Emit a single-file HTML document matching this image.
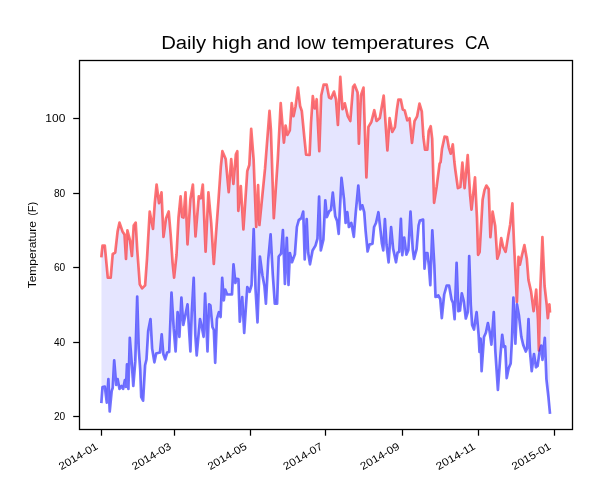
<!DOCTYPE html>
<html><head><meta charset="utf-8"><title>Daily high and low temperatures CA</title>
<style>html,body{margin:0;padding:0;background:#fff;width:613px;height:489px;overflow:hidden}</style></head>
<body>
<svg width="613" height="489" viewBox="0 0 613 489" style="position:absolute;left:0;top:0;font-family:'Liberation Sans',sans-serif">
<rect x="0" y="0" width="613" height="489" fill="#fff"/>
<path d="M101.45,256.00 L102.50,245.60 L104.80,245.60 L107.80,277.60 L110.70,277.60 L112.70,254.00 L115.20,252.60 L117.60,231.40 L119.50,222.60 L122.50,231.40 L124.50,234.40 L126.00,258.90 L127.40,230.40 L130.00,240.30 L131.90,256.00 L133.70,225.50 L135.70,222.60 L137.20,249.10 L139.80,284.40 L142.10,288.40 L145.10,285.40 L147.00,258.90 L149.70,211.50 L153.00,229.00 L154.70,204.00 L156.60,184.50 L159.00,203.20 L161.50,192.40 L163.50,236.90 L166.00,218.50 L168.70,211.40 L170.70,235.00 L172.60,262.80 L174.10,277.70 L176.50,255.00 L178.50,217.70 L180.60,196.30 L182.10,217.00 L183.50,217.50 L185.50,192.40 L187.50,244.30 L190.40,199.00 L192.90,184.50 L195.50,236.50 L198.80,196.30 L200.80,198.30 L202.80,184.50 L205.60,251.60 L208.40,192.40 L211.20,222.80 L213.80,264.00 L216.50,226.80 L218.50,200.00 L220.80,167.00 L222.40,151.20 L225.70,159.10 L228.70,192.20 L231.20,159.10 L233.40,184.00 L235.90,154.20 L237.30,151.20 L238.30,210.80 L240.80,186.00 L243.40,229.30 L247.30,170.90 L249.30,165.00 L251.20,128.90 L253.60,159.10 L256.20,227.00 L258.10,185.20 L259.40,225.00 L265.00,168.90 L269.50,110.80 L270.90,129.60 L273.80,218.10 L277.80,159.10 L280.70,103.10 L283.90,142.60 L285.60,125.50 L287.40,134.90 L289.80,130.30 L291.70,103.10 L293.50,116.20 L295.60,106.20 L298.00,87.70 L300.10,106.00 L301.80,111.00 L304.40,138.00 L306.10,154.60 L309.60,154.80 L311.00,123.00 L312.80,96.10 L314.80,108.50 L316.70,99.20 L319.30,151.20 L321.20,95.50 L323.60,84.70 L326.70,84.70 L329.10,97.50 L331.10,98.40 L334.00,91.60 L336.00,99.40 L337.90,125.00 L340.30,76.80 L342.50,109.20 L344.80,103.30 L347.80,116.10 L350.30,121.00 L353.10,86.70 L354.60,84.70 L357.60,92.50 L358.90,143.60 L360.90,95.50 L363.50,87.60 L366.40,177.50 L368.40,126.90 L371.30,122.00 L374.30,110.20 L376.60,121.00 L379.80,118.10 L383.70,95.50 L387.40,150.50 L389.60,118.10 L392.30,131.90 L394.90,127.10 L396.90,109.50 L398.40,99.50 L400.80,99.60 L402.80,109.50 L404.70,110.40 L407.30,120.30 L409.60,118.30 L412.00,142.80 L414.50,121.20 L417.10,116.30 L419.50,103.60 L421.80,111.40 L423.40,137.00 L425.00,149.70 L427.30,149.70 L428.70,131.10 L430.70,126.20 L432.20,138.90 L434.10,202.80 L436.70,186.20 L439.60,163.60 L440.60,162.00 L442.00,148.70 L444.60,136.60 L447.00,137.00 L448.90,147.80 L450.70,153.70 L452.80,144.30 L454.40,162.00 L455.30,169.50 L457.90,188.10 L460.30,187.10 L462.40,162.60 L464.60,188.10 L467.70,155.20 L470.10,195.00 L471.50,209.70 L475.00,177.30 L477.00,218.60 L478.10,254.80 L479.60,252.00 L482.60,199.80 L484.50,190.00 L486.40,185.60 L488.70,189.10 L490.40,237.10 L492.60,211.60 L495.20,226.00 L497.30,258.70 L499.30,252.80 L501.20,238.10 L503.20,247.00 L505.60,251.90 L508.20,235.60 L510.20,224.40 L512.40,203.30 L514.00,243.00 L516.90,302.00 L518.50,256.80 L519.90,264.60 L522.00,255.00 L524.40,245.00 L526.80,258.70 L528.50,280.00 L531.10,291.60 L533.60,311.20 L536.20,289.60 L538.00,320.00 L538.90,350.50 L540.30,289.60 L542.40,237.10 L544.60,286.00 L546.80,305.30 L547.80,318.10 L549.40,304.40 L549.90,311.20 L549.90,412.50 L548.40,396.80 L546.40,379.10 L544.80,337.80 L542.50,359.90 L541.30,345.60 L539.50,352.50 L537.60,366.00 L536.00,367.30 L534.00,354.00 L531.70,371.20 L529.90,351.00 L528.50,319.10 L527.20,348.00 L525.80,351.50 L523.20,345.00 L521.30,336.80 L518.90,315.20 L517.00,304.40 L515.40,343.60 L513.40,297.50 L512.00,339.30 L510.70,363.40 L508.70,368.30 L506.70,378.10 L505.20,346.50 L503.80,347.00 L502.20,334.80 L500.30,357.00 L497.90,389.90 L495.30,351.00 L493.80,312.20 L491.40,344.60 L489.50,330.90 L487.90,323.00 L485.90,332.80 L484.00,337.00 L481.60,371.20 L480.60,338.50 L479.50,352.00 L478.60,334.80 L476.60,312.20 L474.00,329.50 L472.10,325.00 L470.80,305.00 L469.20,256.00 L467.80,312.00 L465.80,318.50 L463.80,301.40 L461.80,293.40 L460.00,310.50 L458.30,311.20 L456.60,262.80 L454.60,319.10 L453.00,303.00 L451.50,299.50 L449.10,285.70 L446.70,285.70 L444.20,294.50 L441.80,318.10 L440.20,299.00 L438.30,295.50 L435.50,297.00 L434.30,264.80 L432.30,230.40 L430.30,285.20 L428.80,265.00 L427.40,253.00 L426.00,253.00 L424.50,268.70 L423.10,219.60 L419.90,220.60 L418.60,225.50 L416.60,249.10 L414.00,258.90 L412.70,249.10 L410.50,211.60 L408.40,250.00 L406.40,254.70 L404.20,237.50 L402.30,255.20 L400.90,218.90 L399.20,252.00 L397.60,252.50 L396.00,262.30 L393.10,248.60 L391.10,227.00 L388.60,262.30 L386.50,245.00 L384.90,219.10 L383.30,250.50 L381.90,243.60 L380.30,228.90 L378.40,212.20 L376.00,223.00 L374.10,227.00 L372.50,243.60 L369.50,244.60 L367.60,251.50 L365.60,230.90 L364.20,212.20 L362.30,205.30 L360.30,209.30 L358.30,185.70 L355.80,212.20 L353.80,236.80 L351.30,223.00 L348.90,227.00 L347.30,212.20 L345.60,223.00 L344.00,199.50 L341.50,177.90 L338.70,233.80 L337.10,221.10 L335.20,216.20 L332.80,192.60 L331.00,210.00 L329.30,211.20 L326.90,217.10 L325.30,200.40 L323.40,239.70 L320.80,250.50 L319.10,196.50 L317.50,238.70 L315.50,245.60 L312.60,250.50 L310.00,264.30 L308.10,252.50 L306.70,219.10 L304.70,259.40 L303.20,211.60 L301.40,218.10 L298.80,220.10 L296.90,227.00 L294.90,254.40 L292.00,262.30 L289.90,253.00 L288.50,285.00 L286.80,237.90 L284.90,284.00 L282.90,230.00 L281.10,253.60 L278.70,256.50 L277.10,303.60 L274.80,303.60 L272.80,275.00 L270.60,234.40 L268.30,259.00 L265.90,303.60 L264.40,286.00 L262.40,275.20 L259.90,256.50 L257.50,322.30 L255.50,289.00 L253.70,229.00 L251.60,285.00 L249.60,291.90 L247.30,287.00 L244.20,332.80 L242.20,297.20 L239.80,321.60 L238.40,279.00 L236.50,278.80 L235.40,283.00 L233.50,264.40 L232.00,294.50 L227.10,294.50 L225.20,289.60 L223.80,300.40 L222.20,277.90 L220.60,317.00 L218.90,312.20 L216.90,319.10 L215.20,362.80 L213.80,330.00 L212.40,327.00 L210.40,305.30 L209.10,304.40 L207.50,351.50 L205.10,293.60 L203.60,336.80 L202.00,328.00 L200.00,319.10 L196.70,355.40 L195.30,335.00 L193.70,277.90 L191.80,312.20 L190.40,351.50 L189.00,329.00 L187.50,304.40 L185.00,317.00 L183.30,325.00 L181.40,297.50 L179.40,336.80 L177.60,312.20 L175.60,351.50 L173.70,328.90 L171.50,292.60 L169.20,352.00 L167.20,352.50 L165.20,359.40 L163.30,354.00 L161.70,334.30 L160.00,352.50 L156.20,353.50 L154.40,362.30 L152.10,348.60 L150.50,319.10 L148.20,330.90 L146.50,359.50 L145.10,365.30 L143.10,400.70 L141.20,396.80 L140.20,369.30 L138.70,348.60 L137.20,296.50 L135.30,361.40 L133.30,386.00 L131.90,365.30 L129.80,337.90 L128.40,388.90 L127.00,364.40 L126.00,387.00 L124.90,380.10 L123.10,388.90 L121.50,386.00 L119.50,388.90 L117.60,379.10 L116.20,385.00 L114.20,360.40 L112.70,388.00 L111.70,390.90 L109.70,411.50 L108.40,379.10 L106.80,402.70 L104.80,386.60 L102.50,387.00 L101.45,401.70Z" fill="#0000ff" fill-opacity="0.1" stroke="none"/>
<path d="M101.45,256.00 L102.50,245.60 L104.80,245.60 L107.80,277.60 L110.70,277.60 L112.70,254.00 L115.20,252.60 L117.60,231.40 L119.50,222.60 L122.50,231.40 L124.50,234.40 L126.00,258.90 L127.40,230.40 L130.00,240.30 L131.90,256.00 L133.70,225.50 L135.70,222.60 L137.20,249.10 L139.80,284.40 L142.10,288.40 L145.10,285.40 L147.00,258.90 L149.70,211.50 L153.00,229.00 L154.70,204.00 L156.60,184.50 L159.00,203.20 L161.50,192.40 L163.50,236.90 L166.00,218.50 L168.70,211.40 L170.70,235.00 L172.60,262.80 L174.10,277.70 L176.50,255.00 L178.50,217.70 L180.60,196.30 L182.10,217.00 L183.50,217.50 L185.50,192.40 L187.50,244.30 L190.40,199.00 L192.90,184.50 L195.50,236.50 L198.80,196.30 L200.80,198.30 L202.80,184.50 L205.60,251.60 L208.40,192.40 L211.20,222.80 L213.80,264.00 L216.50,226.80 L218.50,200.00 L220.80,167.00 L222.40,151.20 L225.70,159.10 L228.70,192.20 L231.20,159.10 L233.40,184.00 L235.90,154.20 L237.30,151.20 L238.30,210.80 L240.80,186.00 L243.40,229.30 L247.30,170.90 L249.30,165.00 L251.20,128.90 L253.60,159.10 L256.20,227.00 L258.10,185.20 L259.40,225.00 L265.00,168.90 L269.50,110.80 L270.90,129.60 L273.80,218.10 L277.80,159.10 L280.70,103.10 L283.90,142.60 L285.60,125.50 L287.40,134.90 L289.80,130.30 L291.70,103.10 L293.50,116.20 L295.60,106.20 L298.00,87.70 L300.10,106.00 L301.80,111.00 L304.40,138.00 L306.10,154.60 L309.60,154.80 L311.00,123.00 L312.80,96.10 L314.80,108.50 L316.70,99.20 L319.30,151.20 L321.20,95.50 L323.60,84.70 L326.70,84.70 L329.10,97.50 L331.10,98.40 L334.00,91.60 L336.00,99.40 L337.90,125.00 L340.30,76.80 L342.50,109.20 L344.80,103.30 L347.80,116.10 L350.30,121.00 L353.10,86.70 L354.60,84.70 L357.60,92.50 L358.90,143.60 L360.90,95.50 L363.50,87.60 L366.40,177.50 L368.40,126.90 L371.30,122.00 L374.30,110.20 L376.60,121.00 L379.80,118.10 L383.70,95.50 L387.40,150.50 L389.60,118.10 L392.30,131.90 L394.90,127.10 L396.90,109.50 L398.40,99.50 L400.80,99.60 L402.80,109.50 L404.70,110.40 L407.30,120.30 L409.60,118.30 L412.00,142.80 L414.50,121.20 L417.10,116.30 L419.50,103.60 L421.80,111.40 L423.40,137.00 L425.00,149.70 L427.30,149.70 L428.70,131.10 L430.70,126.20 L432.20,138.90 L434.10,202.80 L436.70,186.20 L439.60,163.60 L440.60,162.00 L442.00,148.70 L444.60,136.60 L447.00,137.00 L448.90,147.80 L450.70,153.70 L452.80,144.30 L454.40,162.00 L455.30,169.50 L457.90,188.10 L460.30,187.10 L462.40,162.60 L464.60,188.10 L467.70,155.20 L470.10,195.00 L471.50,209.70 L475.00,177.30 L477.00,218.60 L478.10,254.80 L479.60,252.00 L482.60,199.80 L484.50,190.00 L486.40,185.60 L488.70,189.10 L490.40,237.10 L492.60,211.60 L495.20,226.00 L497.30,258.70 L499.30,252.80 L501.20,238.10 L503.20,247.00 L505.60,251.90 L508.20,235.60 L510.20,224.40 L512.40,203.30 L514.00,243.00 L516.90,302.00 L518.50,256.80 L519.90,264.60 L522.00,255.00 L524.40,245.00 L526.80,258.70 L528.50,280.00 L531.10,291.60 L533.60,311.20 L536.20,289.60 L538.00,320.00 L538.90,350.50 L540.30,289.60 L542.40,237.10 L544.60,286.00 L546.80,305.30 L547.80,318.10 L549.40,304.40 L549.90,311.20" fill="none" stroke="#ff0000" stroke-opacity="0.55" stroke-width="2.7" stroke-linejoin="round" stroke-linecap="square"/>
<path d="M101.45,401.70 L102.50,387.00 L104.80,386.60 L106.80,402.70 L108.40,379.10 L109.70,411.50 L111.70,390.90 L112.70,388.00 L114.20,360.40 L116.20,385.00 L117.60,379.10 L119.50,388.90 L121.50,386.00 L123.10,388.90 L124.90,380.10 L126.00,387.00 L127.00,364.40 L128.40,388.90 L129.80,337.90 L131.90,365.30 L133.30,386.00 L135.30,361.40 L137.20,296.50 L138.70,348.60 L140.20,369.30 L141.20,396.80 L143.10,400.70 L145.10,365.30 L146.50,359.50 L148.20,330.90 L150.50,319.10 L152.10,348.60 L154.40,362.30 L156.20,353.50 L160.00,352.50 L161.70,334.30 L163.30,354.00 L165.20,359.40 L167.20,352.50 L169.20,352.00 L171.50,292.60 L173.70,328.90 L175.60,351.50 L177.60,312.20 L179.40,336.80 L181.40,297.50 L183.30,325.00 L185.00,317.00 L187.50,304.40 L189.00,329.00 L190.40,351.50 L191.80,312.20 L193.70,277.90 L195.30,335.00 L196.70,355.40 L200.00,319.10 L202.00,328.00 L203.60,336.80 L205.10,293.60 L207.50,351.50 L209.10,304.40 L210.40,305.30 L212.40,327.00 L213.80,330.00 L215.20,362.80 L216.90,319.10 L218.90,312.20 L220.60,317.00 L222.20,277.90 L223.80,300.40 L225.20,289.60 L227.10,294.50 L232.00,294.50 L233.50,264.40 L235.40,283.00 L236.50,278.80 L238.40,279.00 L239.80,321.60 L242.20,297.20 L244.20,332.80 L247.30,287.00 L249.60,291.90 L251.60,285.00 L253.70,229.00 L255.50,289.00 L257.50,322.30 L259.90,256.50 L262.40,275.20 L264.40,286.00 L265.90,303.60 L268.30,259.00 L270.60,234.40 L272.80,275.00 L274.80,303.60 L277.10,303.60 L278.70,256.50 L281.10,253.60 L282.90,230.00 L284.90,284.00 L286.80,237.90 L288.50,285.00 L289.90,253.00 L292.00,262.30 L294.90,254.40 L296.90,227.00 L298.80,220.10 L301.40,218.10 L303.20,211.60 L304.70,259.40 L306.70,219.10 L308.10,252.50 L310.00,264.30 L312.60,250.50 L315.50,245.60 L317.50,238.70 L319.10,196.50 L320.80,250.50 L323.40,239.70 L325.30,200.40 L326.90,217.10 L329.30,211.20 L331.00,210.00 L332.80,192.60 L335.20,216.20 L337.10,221.10 L338.70,233.80 L341.50,177.90 L344.00,199.50 L345.60,223.00 L347.30,212.20 L348.90,227.00 L351.30,223.00 L353.80,236.80 L355.80,212.20 L358.30,185.70 L360.30,209.30 L362.30,205.30 L364.20,212.20 L365.60,230.90 L367.60,251.50 L369.50,244.60 L372.50,243.60 L374.10,227.00 L376.00,223.00 L378.40,212.20 L380.30,228.90 L381.90,243.60 L383.30,250.50 L384.90,219.10 L386.50,245.00 L388.60,262.30 L391.10,227.00 L393.10,248.60 L396.00,262.30 L397.60,252.50 L399.20,252.00 L400.90,218.90 L402.30,255.20 L404.20,237.50 L406.40,254.70 L408.40,250.00 L410.50,211.60 L412.70,249.10 L414.00,258.90 L416.60,249.10 L418.60,225.50 L419.90,220.60 L423.10,219.60 L424.50,268.70 L426.00,253.00 L427.40,253.00 L428.80,265.00 L430.30,285.20 L432.30,230.40 L434.30,264.80 L435.50,297.00 L438.30,295.50 L440.20,299.00 L441.80,318.10 L444.20,294.50 L446.70,285.70 L449.10,285.70 L451.50,299.50 L453.00,303.00 L454.60,319.10 L456.60,262.80 L458.30,311.20 L460.00,310.50 L461.80,293.40 L463.80,301.40 L465.80,318.50 L467.80,312.00 L469.20,256.00 L470.80,305.00 L472.10,325.00 L474.00,329.50 L476.60,312.20 L478.60,334.80 L479.50,352.00 L480.60,338.50 L481.60,371.20 L484.00,337.00 L485.90,332.80 L487.90,323.00 L489.50,330.90 L491.40,344.60 L493.80,312.20 L495.30,351.00 L497.90,389.90 L500.30,357.00 L502.20,334.80 L503.80,347.00 L505.20,346.50 L506.70,378.10 L508.70,368.30 L510.70,363.40 L512.00,339.30 L513.40,297.50 L515.40,343.60 L517.00,304.40 L518.90,315.20 L521.30,336.80 L523.20,345.00 L525.80,351.50 L527.20,348.00 L528.50,319.10 L529.90,351.00 L531.70,371.20 L534.00,354.00 L536.00,367.30 L537.60,366.00 L539.50,352.50 L541.30,345.60 L542.50,359.90 L544.80,337.80 L546.40,379.10 L548.40,396.80 L549.90,412.50" fill="none" stroke="#0000ff" stroke-opacity="0.55" stroke-width="2.7" stroke-linejoin="round" stroke-linecap="square"/>
<line x1="101.50" y1="429.50" x2="101.50" y2="435.70" stroke="#000" stroke-width="1.25"/>
<line x1="174.50" y1="429.50" x2="174.50" y2="435.70" stroke="#000" stroke-width="1.25"/>
<line x1="250.50" y1="429.50" x2="250.50" y2="435.70" stroke="#000" stroke-width="1.25"/>
<line x1="325.50" y1="429.50" x2="325.50" y2="435.70" stroke="#000" stroke-width="1.25"/>
<line x1="402.50" y1="429.50" x2="402.50" y2="435.70" stroke="#000" stroke-width="1.25"/>
<line x1="478.50" y1="429.50" x2="478.50" y2="435.70" stroke="#000" stroke-width="1.25"/>
<line x1="554.50" y1="429.50" x2="554.50" y2="435.70" stroke="#000" stroke-width="1.25"/>
<line x1="73.20" y1="416.50" x2="79.50" y2="416.50" stroke="#000" stroke-width="1.25"/>
<line x1="73.20" y1="342.50" x2="79.50" y2="342.50" stroke="#000" stroke-width="1.25"/>
<line x1="73.20" y1="267.50" x2="79.50" y2="267.50" stroke="#000" stroke-width="1.25"/>
<line x1="73.20" y1="193.50" x2="79.50" y2="193.50" stroke="#000" stroke-width="1.25"/>
<line x1="73.20" y1="118.50" x2="79.50" y2="118.50" stroke="#000" stroke-width="1.25"/>
<rect x="79.50" y="60.50" width="493.00" height="369.00" fill="none" stroke="#000" stroke-width="1.3"/>
<g opacity="0.999" style="filter:grayscale(1)">
<text transform="translate(98.80,448.50) rotate(-30)" text-anchor="end" font-size="10.6" fill="#000" textLength="43.4" lengthAdjust="spacingAndGlyphs">2014-01</text>
<text transform="translate(172.02,448.50) rotate(-30)" text-anchor="end" font-size="10.6" fill="#000" textLength="43.4" lengthAdjust="spacingAndGlyphs">2014-03</text>
<text transform="translate(247.73,448.50) rotate(-30)" text-anchor="end" font-size="10.6" fill="#000" textLength="43.4" lengthAdjust="spacingAndGlyphs">2014-05</text>
<text transform="translate(323.44,448.50) rotate(-30)" text-anchor="end" font-size="10.6" fill="#000" textLength="43.4" lengthAdjust="spacingAndGlyphs">2014-07</text>
<text transform="translate(400.39,448.50) rotate(-30)" text-anchor="end" font-size="10.6" fill="#000" textLength="43.4" lengthAdjust="spacingAndGlyphs">2014-09</text>
<text transform="translate(476.09,448.50) rotate(-30)" text-anchor="end" font-size="10.6" fill="#000" textLength="43.4" lengthAdjust="spacingAndGlyphs">2014-11</text>
<text transform="translate(551.80,448.50) rotate(-30)" text-anchor="end" font-size="10.6" fill="#000" textLength="43.4" lengthAdjust="spacingAndGlyphs">2015-01</text>
<text x="65.3" y="420.20" text-anchor="end" font-size="10.2" fill="#000">20</text>
<text x="65.3" y="346.20" text-anchor="end" font-size="10.2" fill="#000">40</text>
<text x="65.3" y="271.20" text-anchor="end" font-size="10.2" fill="#000">60</text>
<text x="65.3" y="197.20" text-anchor="end" font-size="10.2" fill="#000">80</text>
<text x="65.3" y="122.20" text-anchor="end" font-size="10.2" fill="#000" textLength="20.0" lengthAdjust="spacingAndGlyphs">100</text>
<text x="161.20" y="49.1" font-size="18" fill="#000" textLength="45.00" lengthAdjust="spacingAndGlyphs">Daily</text>
<text x="212.00" y="49.1" font-size="18" fill="#000" textLength="39.60" lengthAdjust="spacingAndGlyphs">high</text>
<text x="256.70" y="49.1" font-size="18" fill="#000" textLength="33.80" lengthAdjust="spacingAndGlyphs">and</text>
<text x="296.40" y="49.1" font-size="18" fill="#000" textLength="29.20" lengthAdjust="spacingAndGlyphs">low</text>
<text x="331.90" y="49.1" font-size="18" fill="#000" textLength="122.20" lengthAdjust="spacingAndGlyphs">temperatures</text>
<text x="465.10" y="49.1" font-size="18" fill="#000" textLength="24.10" lengthAdjust="spacingAndGlyphs">CA</text>
<text transform="translate(36.0,288.3) rotate(-90)" font-size="10.2" fill="#000" textLength="67.3" lengthAdjust="spacingAndGlyphs">Temperature</text>
<text transform="translate(36.0,215.8) rotate(-90)" font-size="10.2" fill="#000" textLength="13.8" lengthAdjust="spacingAndGlyphs">(F)</text>
</g>
</svg>
</body></html>
